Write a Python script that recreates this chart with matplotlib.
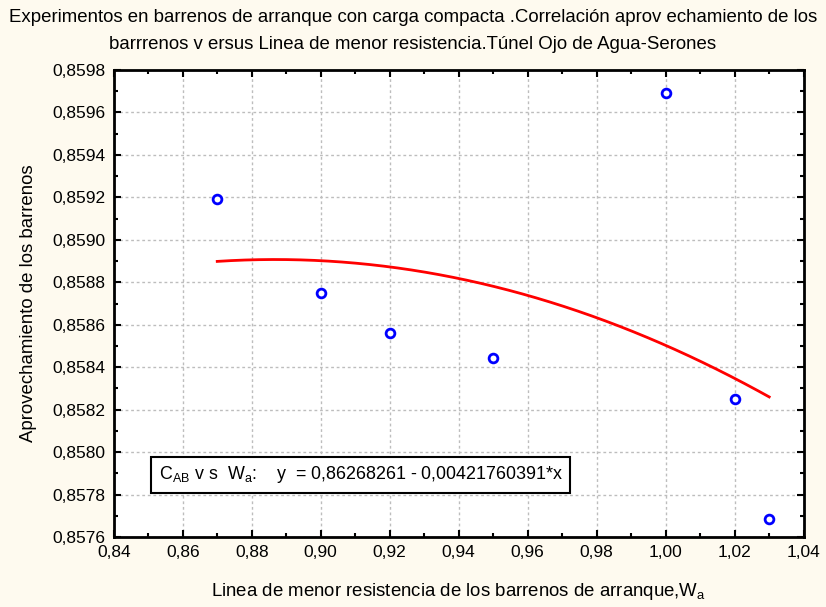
import matplotlib
matplotlib.use("Agg")
import numpy as np
import matplotlib.pyplot as plt
from matplotlib.ticker import FuncFormatter, AutoMinorLocator

plt.rcParams['font.family'] = ['Liberation Sans', 'DejaVu Sans']
plt.rcParams['mathtext.fontset'] = 'custom'
plt.rcParams['mathtext.rm'] = 'Liberation Sans'

# Data points
w_values = [0.87, 0.90, 0.92, 0.95, 1.00, 1.02, 1.03]
c_values = [0.8591908, 0.858748, 0.8585594, 0.8584431, 0.8596902, 0.8582485, 0.8576831]

x_ticks = [0.84, 0.86, 0.88, 0.90, 0.92, 0.94, 0.96, 0.98, 1.00, 1.02, 1.04]
y_ticks = [0.8576, 0.8578, 0.8580, 0.8582, 0.8584, 0.8586, 0.8588, 0.8590,
           0.8592, 0.8594, 0.8596, 0.8598]

title = ("Experimentos en barrenos de arranque con carga compacta .Correlación aprov echamiento de los\n"
         "barrrenos v ersus Linea de menor resistencia.Túnel Ojo de Agua-Serones")
xlabel = r"Linea de menor resistencia de los barrenos de arranque,W$_\mathregular{a}$"
ylabel = "Aprovechamiento de los barrenos"
box_text = r"C$_\mathregular{AB}$ v s  W$_\mathregular{a}$:    y  = 0,86268261 - 0,00421760391*x"

# Quadratic least-squares fit of the data (the red curve)
coef = np.polyfit(w_values, c_values, 2)
fit_x = np.linspace(min(w_values), max(w_values), 200)
fit_y = np.polyval(coef, fit_x)

bg = '#FEFAEF'
fs = 12.5
fs_lab = 13.4

fig = plt.figure(figsize=(8.26, 6.07), dpi=100, facecolor=bg)
ax = fig.add_axes([0.1377, 0.1153, 0.8353, 0.7694])
ax.set_facecolor('white')

ax.plot(fit_x, fit_y, color='#FF0000', lw=2, zorder=3)
ax.plot(w_values, c_values, linestyle='none', marker='o', markersize=6.3,
        markerfacecolor='white', markeredgecolor='#0000FF', markeredgewidth=2, zorder=4)

ax.set_xlim(x_ticks[0], x_ticks[-1])
ax.set_ylim(y_ticks[0], y_ticks[-1])
ax.set_xticks(x_ticks)
ax.set_yticks(y_ticks)
ax.xaxis.set_minor_locator(AutoMinorLocator(2))
ax.yaxis.set_minor_locator(AutoMinorLocator(2))
ax.xaxis.set_major_formatter(FuncFormatter(lambda v, p: f"{v:.2f}".replace('.', ',')))
ax.yaxis.set_major_formatter(FuncFormatter(lambda v, p: f"{v:.4f}".replace('.', ',')))

ax.tick_params(which='both', direction='in', top=True, right=True, width=1.5,
               labelsize=fs, colors='black')
ax.tick_params(which='major', length=5, pad=6)
ax.tick_params(which='minor', length=3)

for s in ax.spines.values():
    s.set_linewidth(2)
    s.set_color('black')

ax.grid(True, which='major', color='#BDBDBD', linestyle=(0, (2, 2)), linewidth=1)
ax.set_axisbelow(True)

ax.set_xlabel(xlabel, fontsize=fs_lab, labelpad=15)
ax.set_ylabel(ylabel, fontsize=fs_lab, labelpad=11)
fig.text(0.5, 0.9485, title, ha='center', va='center', fontsize=fs_lab, linespacing=1.8)

ax.text(0.065, 0.133, box_text, transform=ax.transAxes, fontsize=12.9, ha='left', va='center',
        bbox=dict(boxstyle='square,pad=0.42', facecolor='white', edgecolor='black', linewidth=1.5),
        zorder=5)

fig.savefig('out.png', dpi=100, facecolor=bg)
